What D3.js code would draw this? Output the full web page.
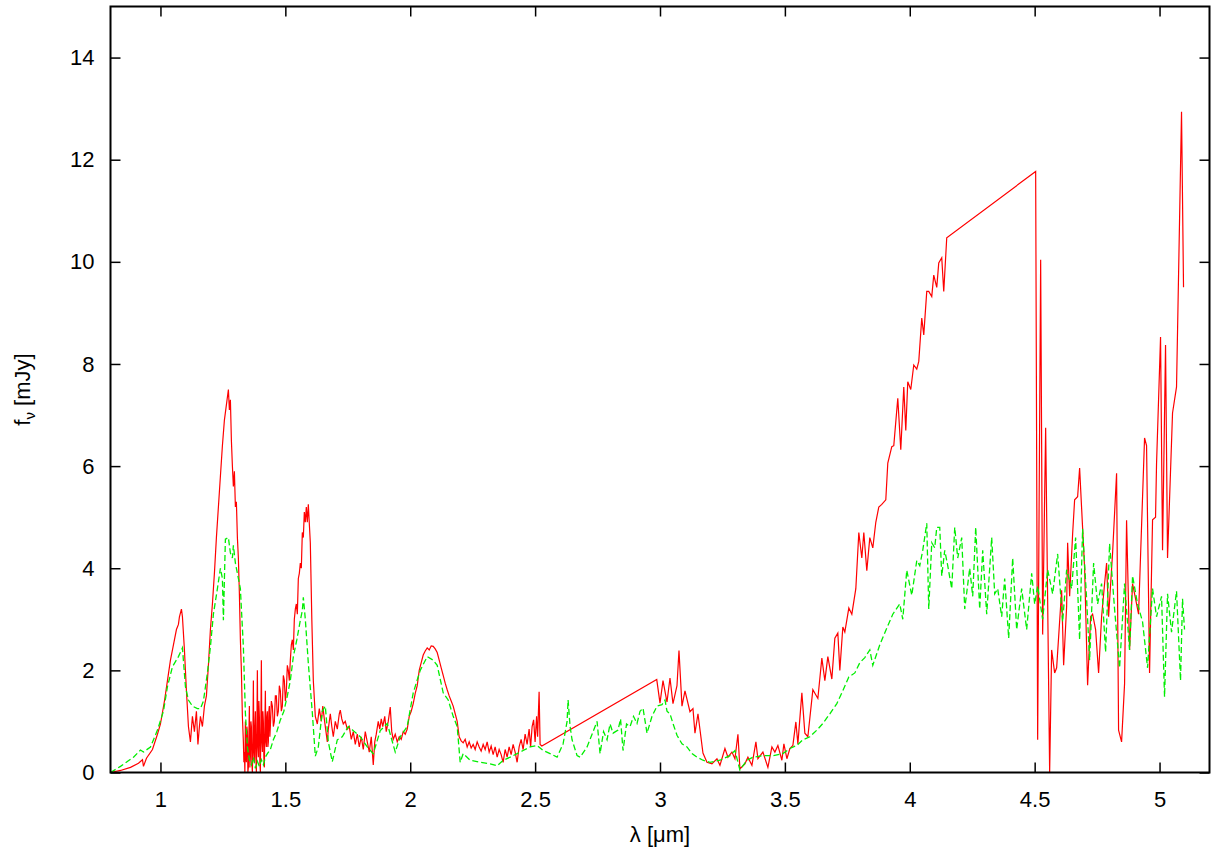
<!DOCTYPE html>
<html>
<head>
<meta charset="utf-8">
<script src="https://cdn.jsdelivr.net/npm/d3@7"></script>
<style>
  body { margin: 0; background: #fff; }
  text { font-family: "Liberation Sans", Arial, sans-serif; }
</style>
</head>
<body>
<div id="chart"></div>
<script>
// observed spectrum (red, solid) as [lambda, f_nu]
var observed = [
  [0.800,0.00],[0.840,0.04],[0.880,0.10],[0.912,0.18],[0.928,0.25],[0.932,0.12],[0.944,0.28],[0.968,0.45],
  [0.988,0.75],[1.000,0.95],[1.016,1.4],[1.028,1.8],[1.040,2.2],[1.052,2.5],[1.064,2.8],[1.072,2.9],
  [1.076,3.05],[1.084,3.2],[1.088,3.05],[1.096,2.4],[1.104,1.6],[1.112,0.9],[1.120,0.6],[1.128,1.1],
  [1.136,0.8],[1.144,1.2],[1.150,0.55],[1.156,0.9],[1.160,1.1],[1.168,0.9],[1.176,1.3],[1.184,1.5],
  [1.192,2.1],[1.200,2.8],[1.208,3.3],[1.216,3.9],[1.224,4.6],[1.232,5.2],[1.240,5.8],[1.248,6.4],
  [1.256,6.9],[1.264,7.2],[1.272,7.5],[1.276,7.1],[1.280,7.3],[1.284,6.5],[1.288,6.0],[1.292,5.6],
  [1.296,5.9],[1.300,5.2],[1.304,5.3],[1.308,4.6],[1.312,4.2],[1.316,3.5],[1.320,2.6],[1.324,2.0],
  [1.328,1.1],[1.332,0.6],[1.334,0.2],[1.336,0.4],[1.338,0.0],[1.340,1.0],[1.342,0.3],[1.344,0.2],
  [1.346,0.9],[1.348,0.8],[1.350,0.0],[1.352,0.1],[1.354,0.7],[1.356,1.3],[1.358,0.1],[1.360,0.3],
  [1.362,1.0],[1.364,0.9],[1.366,0.2],[1.368,0.0],[1.370,0.6],[1.372,1.8],[1.374,0.4],[1.376,0.2],
  [1.378,0.9],[1.380,1.2],[1.382,0.3],[1.384,0.0],[1.386,0.8],[1.388,2.0],[1.390,0.5],[1.392,0.3],
  [1.394,1.4],[1.396,1.1],[1.398,0.2],[1.400,0.0],[1.402,0.9],[1.404,2.2],[1.406,0.6],[1.408,0.4],
  [1.410,1.2],[1.412,1.0],[1.414,0.3],[1.416,0.1],[1.418,0.9],[1.420,1.6],[1.422,0.6],[1.424,0.5],
  [1.426,1.1],[1.428,1.2],[1.430,0.5],[1.432,0.6],[1.434,1.2],[1.436,1.3],[1.438,0.7],[1.440,0.9],
  [1.444,1.4],[1.448,1.3],[1.452,0.9],[1.456,1.0],[1.460,1.5],[1.464,1.5],[1.468,1.1],[1.472,1.2],
  [1.476,1.7],[1.480,1.6],[1.484,1.2],[1.488,1.3],[1.492,1.9],[1.496,1.8],[1.500,1.4],[1.504,1.6],
  [1.508,2.1],[1.512,2.0],[1.516,1.8],[1.520,2.2],[1.524,2.5],[1.528,2.6],[1.532,2.4],[1.536,3.0],
  [1.540,3.2],[1.544,3.3],[1.548,3.1],[1.552,3.8],[1.556,3.9],[1.560,4.1],[1.564,4.0],[1.568,4.7],
  [1.572,4.6],[1.576,5.1],[1.580,4.9],[1.584,5.2],[1.588,4.9],[1.592,5.25],[1.600,4.5],[1.606,3.0],
  [1.612,1.8],[1.620,1.1],[1.628,0.95],[1.636,1.25],[1.644,1.0],[1.650,1.3],[1.656,1.05],[1.664,0.75],
  [1.668,0.6],[1.672,0.85],[1.680,1.15],[1.686,0.9],[1.692,0.7],[1.700,1.0],[1.708,0.85],[1.716,1.15],
  [1.720,1.22],[1.726,1.05],[1.732,0.95],[1.740,1.0],[1.748,0.85],[1.756,0.9],[1.764,0.65],[1.772,0.8],
  [1.780,0.55],[1.788,0.75],[1.796,0.5],[1.804,0.7],[1.812,0.45],[1.820,0.8],[1.828,0.6],[1.836,0.4],
  [1.844,0.7],[1.852,0.15],[1.858,0.6],[1.864,0.75],[1.872,1.0],[1.878,0.85],[1.884,1.05],[1.890,0.9],
  [1.898,1.1],[1.904,0.8],[1.912,1.0],[1.920,1.28],[1.926,0.8],[1.932,0.65],[1.940,0.75],[1.948,0.6],
  [1.956,0.7],[1.964,0.65],[1.972,0.8],[1.980,0.75],[1.988,0.85],[1.996,1.1],[2.004,1.2],[2.012,1.35],
  [2.020,1.55],[2.028,1.7],[2.036,2.0],[2.044,2.15],[2.052,2.3],[2.060,2.38],[2.068,2.44],[2.076,2.4],
  [2.084,2.48],[2.092,2.47],[2.100,2.42],[2.108,2.35],[2.116,2.2],[2.124,2.05],[2.132,1.9],[2.140,1.75],
  [2.148,1.62],[2.156,1.5],[2.164,1.4],[2.172,1.3],[2.180,1.15],[2.188,1.0],[2.196,0.7],[2.204,0.62],
  [2.212,0.58],[2.220,0.65],[2.228,0.5],[2.236,0.6],[2.244,0.48],[2.252,0.55],[2.260,0.45],[2.268,0.6],
  [2.276,0.5],[2.284,0.42],[2.292,0.55],[2.300,0.45],[2.308,0.6],[2.316,0.4],[2.324,0.52],[2.332,0.35],
  [2.340,0.5],[2.348,0.3],[2.356,0.45],[2.364,0.35],[2.372,0.2],[2.380,0.45],[2.388,0.3],[2.396,0.5],
  [2.404,0.35],[2.412,0.55],[2.420,0.4],[2.428,0.2],[2.436,0.5],[2.444,0.65],[2.452,0.45],[2.460,0.75],
  [2.468,0.55],[2.476,0.85],[2.482,0.5],[2.488,0.9],[2.494,1.03],[2.500,0.6],[2.506,1.1],[2.510,0.7],
  [2.516,1.58],[2.520,0.55],[2.527,0.52],
  [2.987,1.82],[3.000,1.36],[3.012,1.8],[3.028,1.38],[3.040,1.85],[3.052,1.35],[3.068,1.7],[3.076,2.39],
  [3.088,1.3],[3.100,1.6],[3.120,1.19],[3.132,1.25],[3.140,0.77],[3.152,1.15],[3.172,0.38],[3.188,0.2],
  [3.208,0.17],[3.228,0.27],[3.240,0.14],[3.260,0.47],[3.272,0.3],[3.288,0.4],[3.300,0.27],[3.312,0.75],
  [3.320,0.07],[3.340,0.17],[3.352,0.3],[3.368,0.14],[3.384,0.6],[3.392,0.27],[3.412,0.4],[3.432,0.1],
  [3.448,0.5],[3.460,0.4],[3.472,0.53],[3.488,0.24],[3.496,0.56],[3.508,0.27],[3.520,0.47],[3.532,0.53],
  [3.544,0.99],[3.552,0.56],[3.568,1.56],[3.580,0.77],[3.592,0.7],[3.612,1.62],[3.632,1.45],[3.648,2.24],
  [3.660,1.8],[3.672,2.27],[3.688,1.83],[3.700,2.63],[3.712,2.73],[3.720,2.0],[3.732,2.85],[3.740,2.75],
  [3.756,3.22],[3.768,3.1],[3.784,3.6],[3.796,4.7],[3.808,4.2],[3.816,4.7],[3.828,3.95],[3.840,4.6],
  [3.852,4.4],[3.864,4.9],[3.876,5.2],[3.888,5.25],[3.904,5.34],[3.912,6.06],[3.928,6.38],[3.936,6.4],
  [3.952,7.33],[3.964,6.32],[3.976,7.55],[3.984,6.7],[3.992,7.65],[4.004,7.5],[4.016,7.98],[4.028,7.9],
  [4.036,8.05],[4.048,8.9],[4.056,8.57],[4.068,9.42],[4.076,9.42],[4.088,9.32],[4.096,9.74],[4.108,9.5],
  [4.116,9.98],[4.128,10.08],[4.136,9.42],[4.148,10.47],
  [4.504,11.77],[4.512,0.64],[4.524,10.04],[4.532,2.7],[4.544,6.75],[4.560,0.0],[4.568,2.4],[4.580,1.95],
  [4.588,2.05],[4.608,3.57],[4.616,2.1],[4.628,3.25],[4.632,4.5],[4.640,3.45],[4.652,4.67],[4.660,5.34],
  [4.672,5.4],[4.680,5.96],[4.700,4.0],[4.712,1.71],[4.724,3.05],[4.732,3.1],[4.744,2.8],[4.756,1.95],
  [4.768,3.05],[4.780,3.7],[4.788,4.1],[4.796,3.05],[4.812,4.3],[4.828,5.86],[4.836,0.83],[4.848,0.6],
  [4.860,1.74],[4.868,4.94],[4.880,2.4],[4.892,3.7],[4.908,3.3],[4.916,3.1],[4.940,6.55],[4.948,6.4],
  [4.960,1.95],[4.972,4.95],[4.984,5.0],[4.988,6.05],[5.004,8.53],[5.012,4.35],[5.024,8.37],[5.032,4.2],
  [5.052,7.04],[5.068,7.55],[5.088,12.94],[5.096,9.5]
];

// model spectrum (green, dashed) as [lambda, f_nu]
var model = [
  [0.800,0.00],[0.840,0.12],[0.892,0.30],[0.920,0.44],[0.932,0.40],[0.960,0.5],[0.988,0.83],[1.012,1.2],
  [1.028,1.68],[1.048,2.07],[1.072,2.27],[1.088,2.44],[1.100,1.68],[1.112,1.42],[1.128,1.3],[1.148,1.25],
  [1.160,1.25],[1.172,1.4],[1.188,1.95],[1.200,2.46],[1.212,3.1],[1.228,3.6],[1.240,4.0],[1.248,3.8],
  [1.252,2.98],[1.260,4.57],[1.272,4.6],[1.280,4.3],[1.288,4.2],[1.292,4.45],[1.300,4.1],[1.308,3.9],
  [1.320,3.6],[1.332,2.46],[1.340,1.17],[1.348,0.5],[1.356,0.25],[1.364,0.15],[1.372,0.3],[1.380,0.08],
  [1.388,0.22],[1.396,0.12],[1.404,0.25],[1.412,0.15],[1.420,0.3],[1.428,0.37],[1.440,0.45],[1.452,0.64],
  [1.466,0.8],[1.480,1.03],[1.494,1.2],[1.508,1.5],[1.520,1.8],[1.532,2.27],[1.546,2.6],[1.560,2.98],
  [1.568,3.17],[1.572,3.43],[1.580,3.0],[1.592,2.14],[1.608,1.17],[1.620,0.32],[1.632,0.5],[1.648,1.2],
  [1.660,1.3],[1.672,0.6],[1.688,0.21],[1.708,0.64],[1.728,0.7],[1.752,0.9],[1.772,0.82],[1.800,0.7],
  [1.828,0.5],[1.852,0.37],[1.880,0.82],[1.908,0.96],[1.940,0.4],[1.960,0.7],[1.988,0.9],[2.012,1.56],
  [2.040,2.0],[2.068,2.27],[2.092,2.2],[2.108,2.1],[2.132,1.56],[2.152,1.42],[2.172,1.1],[2.188,0.9],
  [2.200,0.2],[2.212,0.37],[2.240,0.24],[2.280,0.2],[2.320,0.17],[2.348,0.13],[2.372,0.24],[2.400,0.3],
  [2.428,0.37],[2.452,0.43],[2.480,0.5],[2.508,0.53],[2.532,0.43],[2.560,0.37],[2.588,0.3],[2.612,0.56],
  [2.628,1.0],[2.632,1.42],[2.640,0.9],[2.648,0.64],[2.668,0.33],[2.680,0.3],[2.708,0.5],[2.732,0.8],
  [2.748,1.0],[2.760,0.37],[2.774,0.8],[2.788,0.64],[2.800,0.95],[2.812,0.77],[2.832,0.83],[2.842,1.05],
  [2.852,0.43],[2.866,0.95],[2.880,0.9],[2.894,1.1],[2.908,0.96],[2.920,1.2],[2.932,1.26],[2.948,0.77],
  [2.968,1.1],[2.988,1.3],[3.008,1.33],[3.020,1.42],[3.028,1.2],[3.040,1.15],[3.052,0.96],[3.068,0.73],
  [3.088,0.56],[3.108,0.5],[3.128,0.37],[3.148,0.3],[3.172,0.24],[3.200,0.2],[3.240,0.24],[3.280,0.33],
  [3.300,0.43],[3.320,0.05],[3.348,0.24],[3.372,0.3],[3.412,0.33],[3.452,0.33],[3.492,0.37],[3.520,0.47],
  [3.548,0.53],[3.572,0.64],[3.600,0.7],[3.628,0.83],[3.652,0.96],[3.680,1.15],[3.708,1.35],[3.732,1.6],
  [3.756,1.87],[3.780,1.95],[3.800,2.15],[3.820,2.25],[3.840,2.4],[3.852,2.1],[3.880,2.5],[3.908,2.83],
  [3.932,3.1],[3.960,3.3],[3.972,3.0],[3.988,3.96],[4.008,3.47],[4.028,4.15],[4.040,4.05],[4.052,4.35],
  [4.068,4.88],[4.076,3.2],[4.088,4.5],[4.100,4.4],[4.108,4.8],[4.120,4.8],[4.128,3.85],[4.140,4.35],
  [4.152,4.05],[4.168,3.6],[4.180,4.8],[4.192,4.2],[4.208,4.6],[4.220,3.2],[4.240,4.0],[4.252,3.45],
  [4.264,4.8],[4.280,3.2],[4.292,4.35],[4.308,3.1],[4.328,4.6],[4.340,3.5],[4.352,3.6],[4.368,3.05],
  [4.380,3.8],[4.396,2.63],[4.412,4.2],[4.428,2.8],[4.448,3.6],[4.468,2.8],[4.488,3.9],[4.500,3.3],
  [4.512,3.65],[4.532,3.0],[4.552,3.97],[4.572,3.5],[4.592,4.28],[4.612,2.95],[4.628,3.97],[4.648,3.6],
  [4.664,4.6],[4.680,2.6],[4.692,4.77],[4.708,3.4],[4.720,2.2],[4.736,4.1],[4.752,3.3],[4.768,3.7],
  [4.784,2.36],[4.800,4.48],[4.820,3.2],[4.840,2.05],[4.860,3.7],[4.880,2.4],[4.892,3.85],[4.912,3.3],
  [4.932,2.95],[4.952,2.05],[4.972,3.6],[4.988,3.05],[5.008,3.45],[5.020,1.48],[5.032,3.5],[5.048,2.75],
  [5.068,3.55],[5.084,1.8],[5.092,3.4],[5.100,2.8]
];

var xTicks = [1, 1.5, 2, 2.5, 3, 3.5, 4, 4.5, 5];
var yTicks = [0, 2, 4, 6, 8, 10, 12, 14];

var width = 1212, height = 852,
    margin = {left: 110.5, right: 2.5, top: 6.5, bottom: 79.5},
    innerW = width - margin.left - margin.right,
    innerH = height - margin.top - margin.bottom;

var svg = d3.select("#chart").append("svg")
    .attr("width", width)
    .attr("height", height);

var x = d3.scaleLinear().domain([0.8, 5.2]).range([margin.left, margin.left + innerW]);
var y = d3.scaleLinear().domain([0, 15]).range([margin.top + innerH, margin.top]);

svg.append("clipPath").attr("id", "plotclip")
    .append("rect")
    .attr("x", margin.left).attr("y", margin.top)
    .attr("width", innerW).attr("height", innerH);

// axes, ticks pointing inward like gnuplot, mirrored on top/right
var fmt = d3.format("");
var bottomAxis = svg.append("g")
    .attr("transform", `translate(0,${margin.top + innerH})`)
    .call(d3.axisBottom(x).tickValues(xTicks).tickFormat(fmt).tickSizeInner(-10).tickSizeOuter(0).tickPadding(19));
var topAxis = svg.append("g")
    .attr("transform", `translate(0,${margin.top})`)
    .call(d3.axisTop(x).tickValues(xTicks).tickFormat("").tickSizeInner(-10).tickSizeOuter(0));
var leftAxis = svg.append("g")
    .attr("transform", `translate(${margin.left},0)`)
    .call(d3.axisLeft(y).tickValues(yTicks).tickFormat(fmt).tickSizeInner(-10).tickSizeOuter(0).tickPadding(16));
var rightAxis = svg.append("g")
    .attr("transform", `translate(${margin.left + innerW},0)`)
    .call(d3.axisRight(y).tickValues(yTicks).tickFormat("").tickSizeInner(-10).tickSizeOuter(0));

[bottomAxis, topAxis, leftAxis, rightAxis].forEach(function (g) {
    g.select(".domain").remove();
    g.selectAll(".tick line").attr("stroke", "#000").attr("stroke-width", 1.5);
    g.selectAll(".tick text").attr("font-size", 22).attr("fill", "#000")
        .style("font-family", "'Liberation Sans', Arial, sans-serif");
});

var line = d3.line()
    .x(d => x(d[0]))
    .y(d => y(d[1]));

var plot = svg.append("g").attr("clip-path", "url(#plotclip)");

plot.append("path")
    .datum(observed)
    .attr("fill", "none")
    .attr("stroke", "#ff0000")
    .attr("stroke-width", 1.2)
    .attr("stroke-linejoin", "miter")
    .attr("d", line);

plot.append("path")
    .datum(model)
    .attr("fill", "none")
    .attr("stroke", "#00ee00")
    .attr("stroke-width", 1.3)
    .attr("stroke-dasharray", "6,3")
    .attr("d", line);

// frame
svg.append("rect")
    .attr("x", margin.left).attr("y", margin.top)
    .attr("width", innerW).attr("height", innerH)
    .attr("fill", "none")
    .attr("stroke", "#000")
    .attr("stroke-width", 2);

// axis titles
var yTitle = svg.append("text")
    .attr("transform", `translate(30,${margin.top + innerH / 2}) rotate(-90)`)
    .attr("text-anchor", "middle")
    .attr("font-size", 22);
yTitle.append("tspan").text("f");
yTitle.append("tspan").attr("font-size", 15).attr("dy", 5).text("\u03bd");
yTitle.append("tspan").attr("dy", -5).text(" [mJy]");

svg.append("text")
    .attr("x", margin.left + innerW / 2)
    .attr("y", 842)
    .attr("text-anchor", "middle")
    .attr("font-size", 22)
    .text("\u03bb [\u03bcm]");
</script>
</body>
</html>
